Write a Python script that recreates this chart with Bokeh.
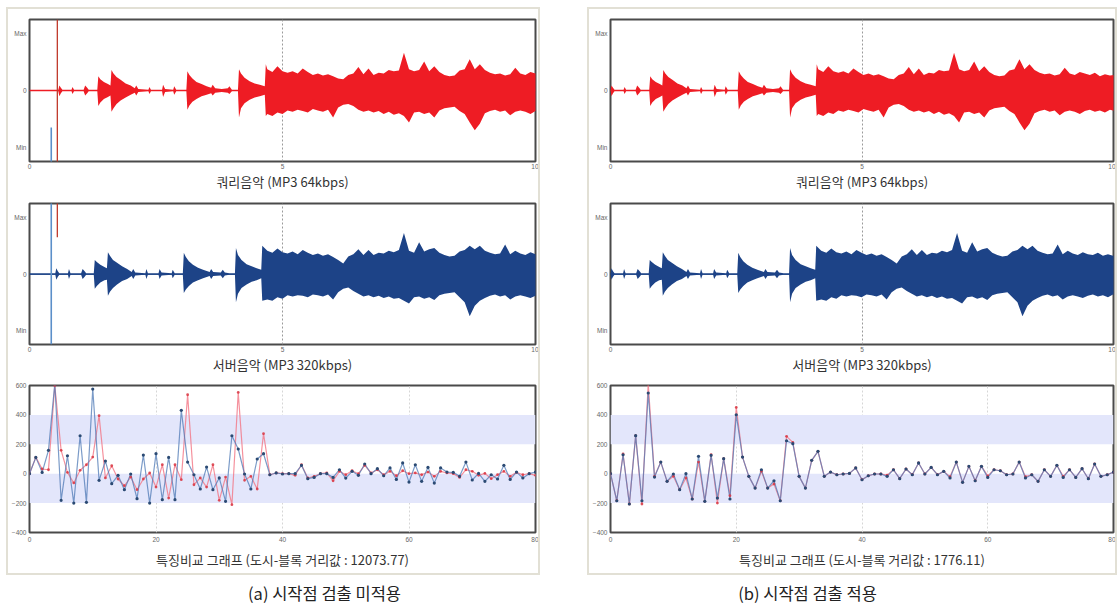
import numpy as np
from bokeh.plotting import figure
from bokeh.layouts import column, row
from bokeh.models import Range1d, FixedTicker, BoxAnnotation, Arrow, Label, Spacer
from bokeh.embed import file_html
from bokeh.resources import INLINE

# ---------------- data ----------------
# waveform envelopes (time in s, upper / lower amplitude, full scale = 1)
q_t = [0.00, 0.57, 0.59, 0.62, 0.65, 0.83, 0.85, 0.88, 1.07, 1.10,
       1.14, 1.17, 1.34, 1.36, 1.40, 1.47, 1.55, 1.60, 1.62, 1.66,
       1.72, 1.80, 1.90, 2.00, 2.08, 2.11, 2.15, 2.35, 2.37, 2.40,
       2.62, 2.64, 2.68, 2.84, 2.86, 2.90, 3.10, 3.12, 3.16, 3.22,
       3.30, 3.40, 3.50, 3.59, 3.62, 3.67, 3.80, 3.92, 3.95, 4.00,
       4.12, 4.14, 4.18, 4.25, 4.35, 4.45, 4.55, 4.65, 4.67]
q_top = [0.01, 0.01, 0.07, 0.04, 0.01, 0.01, 0.05, 0.01, 0.01, 0.07,
         0.04, 0.01, 0.01, 0.20, 0.16, 0.12, 0.09, 0.07, 0.29, 0.24,
         0.19, 0.15, 0.10, 0.07, 0.03, 0.07, 0.02, 0.01, 0.05, 0.01,
         0.01, 0.08, 0.02, 0.01, 0.06, 0.01, 0.01, 0.27, 0.22, 0.17,
         0.12, 0.09, 0.06, 0.04, 0.08, 0.03, 0.02, 0.03, 0.06, 0.01,
         0.01, 0.30, 0.24, 0.18, 0.13, 0.10, 0.08, 0.06, 0.37]
q_bot = [0.01, 0.01, 0.08, 0.04, 0.01, 0.01, 0.05, 0.01, 0.01, 0.07,
         0.04, 0.01, 0.01, 0.22, 0.17, 0.12, 0.09, 0.07, 0.30, 0.25,
         0.19, 0.14, 0.10, 0.06, 0.03, 0.07, 0.02, 0.01, 0.05, 0.01,
         0.01, 0.09, 0.02, 0.01, 0.06, 0.01, 0.01, 0.27, 0.21, 0.16,
         0.12, 0.08, 0.06, 0.04, 0.07, 0.03, 0.02, 0.03, 0.05, 0.01,
         0.01, 0.38, 0.25, 0.18, 0.13, 0.10, 0.08, 0.06, 0.36]
loud_t = [round(4.7 + 0.1 * i, 2) for i in range(60)]
q_loud_top = [0.30, 0.26, 0.34, 0.27, 0.25, 0.27, 0.24, 0.31, 0.26, 0.22,
              0.24, 0.21, 0.23, 0.20, 0.17, 0.16, 0.22, 0.24, 0.33, 0.23,
              0.31, 0.22, 0.25, 0.24, 0.29, 0.27, 0.28, 0.53, 0.30, 0.27,
              0.29, 0.41, 0.27, 0.34, 0.26, 0.22, 0.20, 0.21, 0.28, 0.30,
              0.44, 0.30, 0.37, 0.29, 0.25, 0.23, 0.24, 0.21, 0.23, 0.32,
              0.24, 0.22, 0.26, 0.24, 0.22, 0.25, 0.20, 0.23, 0.21, 0.22]
q_loud_bot = [0.33, 0.36, 0.31, 0.33, 0.28, 0.30, 0.27, 0.29, 0.31, 0.26,
              0.28, 0.30, 0.27, 0.38, 0.24, 0.20, 0.19, 0.22, 0.27, 0.30,
              0.28, 0.31, 0.29, 0.33, 0.30, 0.34, 0.32, 0.36, 0.45, 0.31,
              0.30, 0.33, 0.31, 0.38, 0.28, 0.25, 0.24, 0.23, 0.29, 0.33,
              0.45, 0.56, 0.47, 0.32, 0.29, 0.27, 0.30, 0.28, 0.35, 0.30,
              0.28, 0.30, 0.33, 0.29, 0.27, 0.30, 0.28, 0.31, 0.27, 0.29]

s_t = [0.00, 0.51, 0.53, 0.56, 0.59, 0.76, 0.78, 0.81, 1.02, 1.05,
       1.09, 1.12, 1.27, 1.29, 1.33, 1.40, 1.48, 1.53, 1.55, 1.59,
       1.65, 1.73, 1.83, 1.93, 2.02, 2.05, 2.09, 2.29, 2.31, 2.34,
       2.55, 2.57, 2.61, 2.81, 2.83, 2.87, 3.03, 3.05, 3.09, 3.15,
       3.23, 3.33, 3.43, 3.56, 3.59, 3.63, 3.78, 3.82, 3.86, 3.95,
       4.06, 4.08, 4.12, 4.19, 4.29, 4.39, 4.49, 4.58, 4.60]
s_top = [0.01, 0.01, 0.08, 0.04, 0.01, 0.01, 0.07, 0.01, 0.01, 0.07,
         0.04, 0.01, 0.01, 0.20, 0.17, 0.13, 0.10, 0.08, 0.31, 0.26,
         0.20, 0.16, 0.11, 0.07, 0.03, 0.07, 0.02, 0.01, 0.07, 0.01,
         0.01, 0.07, 0.02, 0.01, 0.06, 0.01, 0.01, 0.30, 0.24, 0.18,
         0.13, 0.09, 0.06, 0.03, 0.07, 0.03, 0.02, 0.06, 0.02, 0.01,
         0.01, 0.37, 0.27, 0.20, 0.14, 0.11, 0.08, 0.06, 0.40]
s_bot = [0.01, 0.01, 0.08, 0.04, 0.01, 0.01, 0.07, 0.01, 0.01, 0.07,
         0.04, 0.01, 0.01, 0.21, 0.17, 0.12, 0.09, 0.08, 0.31, 0.25,
         0.20, 0.15, 0.10, 0.07, 0.03, 0.07, 0.02, 0.01, 0.07, 0.01,
         0.01, 0.07, 0.02, 0.01, 0.06, 0.01, 0.01, 0.27, 0.22, 0.17,
         0.12, 0.09, 0.06, 0.03, 0.07, 0.03, 0.02, 0.06, 0.02, 0.01,
         0.01, 0.40, 0.28, 0.20, 0.15, 0.11, 0.09, 0.06, 0.38]
s_loud_top = [0.33, 0.30, 0.36, 0.31, 0.29, 0.32, 0.28, 0.34, 0.30, 0.27,
              0.29, 0.26, 0.28, 0.24, 0.20, 0.15, 0.25, 0.28, 0.35, 0.27,
              0.34, 0.27, 0.30, 0.29, 0.33, 0.31, 0.34, 0.58, 0.33, 0.30,
              0.45, 0.32, 0.35, 0.37, 0.30, 0.27, 0.25, 0.26, 0.32, 0.34,
              0.40, 0.35, 0.40, 0.33, 0.30, 0.28, 0.29, 0.42, 0.28, 0.33,
              0.29, 0.27, 0.31, 0.28, 0.27, 0.30, 0.26, 0.28, 0.26, 0.27]
s_loud_bot = [0.36, 0.38, 0.33, 0.35, 0.30, 0.32, 0.30, 0.31, 0.33, 0.29,
              0.30, 0.32, 0.29, 0.36, 0.26, 0.21, 0.19, 0.24, 0.28, 0.32,
              0.30, 0.33, 0.31, 0.34, 0.32, 0.35, 0.34, 0.38, 0.42, 0.33,
              0.32, 0.35, 0.33, 0.37, 0.30, 0.28, 0.27, 0.26, 0.33, 0.40,
              0.60, 0.45, 0.38, 0.34, 0.31, 0.29, 0.32, 0.30, 0.36, 0.32,
              0.30, 0.32, 0.34, 0.31, 0.29, 0.32, 0.30, 0.33, 0.29, 0.31]

# detected start points (s) used in panel (b); start markers drawn in panel (a)
query_start = 0.57
server_start = 0.51
marker_query_x = 0.55
marker_server_x = 0.43
marker_query_end = 0.52     # red marker ends inside the server plot at this level
marker_server_begin = -0.52  # blue marker starts inside the query plot at this level

# feature comparison values (index 0..80)
feat_idx = list(range(81))
feat_a_server = [0, 111, 9, 159, 612, -181, 122, -200, 258, -195,
                 576, -45, 86, -68, -11, -109, -2, -170, 127, -200,
                 136, -177, 111, -177, 431, 79, -7, -104, 45, -109,
                 -29, -188, 258, 168, -2, -104, 100, 136, -7, 5,
                 -2, 0, 0, 57, -34, -25, 0, 0, -25, 27,
                 -30, 16, -11, 66, 0, 34, -14, 39, -39, 73,
                 -57, 61, -52, 43, -64, 39, 11, 9, -18, 79,
                 -43, 2, -52, -7, -36, 57, -39, 11, -29, 0, 11]
feat_a_query = [0, 111, 32, 27, 600, 159, 9, -63, 23, 61,
                113, 395, -29, 54, -36, -82, -23, -109, -36, 5,
                -91, 61, -166, 61, -41, 537, -75, -29, -91, 61,
                -181, -23, -211, 553, -45, -18, -104, 272, -7, 5,
                0, 0, -11, 61, -29, -18, 0, 5, -48, 16,
                -7, 20, 0, 57, 5, 27, -7, 16, -14, 20,
                0, 5, -7, 11, -18, 16, 5, 0, -25, 27,
                16, -11, 2, -34, -7, 16, -18, 9, -7, 0, -11]
feat_b_server = [0, -184, 129, -206, 259, -184, 549, -23, 79, -52,
                 -2, -109, 0, -172, 118, -188, 125, -166, 102, -172,
                 401, 113, -18, -98, 27, -98, -48, -184, 224, 204,
                 -18, -98, 91, 152, -18, 11, -7, -2, 2, 39,
                 -41, -14, -2, -2, -18, 27, -34, 32, -7, 73,
                 -2, 43, -7, 16, -29, 79, -59, 50, -48, 50,
                 -25, 27, 20, -7, -2, 79, -29, -7, -52, 27,
                 -18, 57, -25, 27, -25, 34, -34, 66, -18, -7, 11]
feat_b_query = [0, -184, 134, -206, 259, -206, 610, -18, 79, -52,
                -18, -109, -29, -172, 79, -188, 129, -200, 102, -150,
                451, 113, -18, -98, 16, -98, -70, -184, 254, 213,
                -18, -98, 91, 152, -18, 11, -7, -2, 2, 39,
                -41, -14, -2, -2, -10, 27, -34, 32, -7, 73,
                -2, 43, -7, 16, -20, 79, -59, 50, -48, 50,
                -15, 27, 20, -7, -2, 79, -20, -7, -52, 27,
                -18, 57, -18, 27, -25, 34, -34, 66, -18, -7, 11]
bands = [(200, 400), (-200, 0)]

wave_titles = ["쿼리음악 (MP3 64kbps)", "서버음악 (MP3 320kbps)"]
feat_titles = ["특징비교 그래프 (도시-블록 거리값 : 12073.77)",
               "특징비교 그래프 (도시-블록 거리값 : 1776.11)"]
captions = ["(a) 시작점 검출 미적용", "(b) 시작점 검출 적용"]
wave_yticks = [-0.8, 0, 0.8]
wave_ylabels = {-0.8: "Min", 0: "0", 0.8: "Max"}
wave_xticks = [0, 5, 10]
feat_xticks = [0, 20, 40, 60, 80]
feat_yticks = [-400, -200, 0, 200, 400, 600]

# ---------------- style ----------------
KR = "Noto Sans CJK KR"
TF = "Liberation Sans"
RED = "#ee1c24"
NAVY = "#1d4387"
OUTLINE = "#4a4a4a"
BOX = "#e2e0d5"
FRAME_W = {530: 507, 526: 505}   # figure width -> frame width


def base_axes(p, xt, yt, xlabel, tick_standoff, label_standoff):
    for ax in (p.xaxis[0], p.yaxis[0]):
        ax.axis_line_color = None
        ax.major_tick_line_color = None
        ax.minor_tick_line_color = None
        ax.major_tick_out = 0
        ax.major_tick_in = 0
        ax.major_label_text_font = TF
        ax.major_label_text_font_size = "6.5px"
        ax.major_label_text_color = "#666666"
    p.xaxis.ticker = FixedTicker(ticks=xt)
    p.yaxis.ticker = FixedTicker(ticks=yt)
    p.yaxis.major_label_standoff = 3
    p.xaxis.major_label_standoff = tick_standoff
    p.xaxis.axis_label = xlabel
    p.xaxis.axis_label_text_font = KR
    p.xaxis.axis_label_text_font_size = "13px"
    p.xaxis.axis_label_text_font_style = "normal"
    p.xaxis.axis_label_text_color = "#333333"
    p.xaxis.axis_label_standoff = label_standoff
    p.outline_line_color = OUTLINE
    p.outline_line_width = 2
    p.outline_line_alpha = 1


def wave_fig(width, left, top_b, frame_h, bottom, title, t, top, bot, offset, color,
             tick_standoff, label_standoff):
    p = figure(width=width, height=top_b + frame_h + bottom,
               x_range=Range1d(0, 10), y_range=Range1d(-1, 1),
               output_backend="svg", toolbar_location=None,
               min_border_left=left, min_border_right=width - left - FRAME_W[width],
               min_border_top=top_b, min_border_bottom=bottom)
    base_axes(p, wave_xticks, wave_yticks, title, tick_standoff, label_standoff)
    p.yaxis.major_label_overrides = wave_ylabels
    p.xgrid.ticker = FixedTicker(ticks=[5])
    p.xgrid.grid_line_color = "#9a9a9a"
    p.xgrid.grid_line_dash = "2 2"
    p.xgrid.grid_line_width = 1
    p.ygrid.ticker = FixedTicker(ticks=[0])
    p.ygrid.grid_line_color = color
    p.ygrid.grid_line_alpha = 0.8
    p.ygrid.grid_line_width = 1
    x = np.array(t) - offset
    p.varea(x=x, y1=-np.array(bot), y2=np.array(top), fill_color=color, fill_alpha=1)
    return p


def feat_fig(width, left, title, series_server, series_query):
    p = figure(width=width, height=9 + 147 + 41,
               x_range=Range1d(0, 80), y_range=Range1d(-400, 600),
               output_backend="svg", toolbar_location=None,
               min_border_left=left, min_border_right=width - left - FRAME_W[width],
               min_border_top=9, min_border_bottom=41)
    base_axes(p, feat_xticks, feat_yticks, title, 4, 5)
    p.xgrid.ticker = FixedTicker(ticks=[20, 40, 60])
    p.xgrid.grid_line_color = "#d6d6d6"
    p.xgrid.grid_line_dash = "2 2"
    p.ygrid.visible = False
    for lo, hi in bands:
        p.add_layout(BoxAnnotation(bottom=lo, top=hi, fill_color="#e3e6fb", fill_alpha=1,
                                   line_color=None, level="underlay"))
    p.line(feat_idx, series_query, line_color="#f27584", line_width=1.2, line_alpha=0.8)
    p.line(feat_idx, series_server, line_color="#4f79b5", line_width=1.2, line_alpha=0.75)
    p.scatter(feat_idx, series_query, size=2.8, fill_color="#d8343f", line_color=None,
              fill_alpha=0.85)
    p.scatter(feat_idx, series_server, size=3.2, fill_color="#2b4a73", line_color=None)
    return p


def marker(fig, x, y0, y1, color, lw):
    fig.add_layout(Arrow(end=None, x_start=x, y_start=y0, x_end=x, y_end=y1,
                         line_color=color, line_width=lw, level="overlay"))


def panel(width, left, q_off, s_off, feat_server, feat_query, ftitle, markers):
    qt = q_t + loud_t
    st = s_t + loud_t
    f1 = wave_fig(width, left, 10, 147, 27, wave_titles[0], qt, q_top + q_loud_top,
                  q_bot + q_loud_bot, q_off, RED, 2, 0)
    f2 = wave_fig(width, left, 10, 146, 27, wave_titles[1], st, s_top + s_loud_top,
                  s_bot + s_loud_bot, s_off, NAVY, 2, 0)
    f3 = feat_fig(width, left, ftitle, feat_server, feat_query)
    if markers:
        marker(f1, marker_query_x, 1.0, -3.0, "#c0392b", 1.3)
        marker(f1, marker_server_x, marker_server_begin, -3.0, "#5b8fc9", 1.6)
        marker(f2, marker_query_x, 3.0, marker_query_end, "#c0392b", 1.3)
        marker(f2, marker_server_x, 3.0, -1.0, "#5b8fc9", 1.6)
    return column(f1, f2, f3, styles={"border": "2px solid " + BOX,
                                      "background-color": "white"})


# panel (a): outer 534 px at x=6; panel (b): outer 530 px at x=587
col_a = panel(530, 20, 0.0, 0.0, feat_a_server, feat_a_query, feat_titles[0], True)
col_b = panel(526, 19, query_start, server_start, feat_b_server, feat_b_query,
              feat_titles[1], False)

CAP_W, CAP_H = 1117, 29
cap = figure(width=CAP_W, height=CAP_H, x_range=Range1d(0, CAP_W), y_range=Range1d(0, CAP_H),
             output_backend="svg", toolbar_location=None, min_border=0,
             x_axis_location=None, y_axis_location=None)
cap.outline_line_color = None
cap.xgrid.visible = False
cap.ygrid.visible = False
for xc, txt in zip([324, 807], captions):
    cap.add_layout(Label(x=xc, y=12, text=txt, text_align="center", text_baseline="middle",
                         text_font=KR, text_font_size="16.5px", text_color="#222222"))

layout = column(Spacer(height=7),
                row(Spacer(width=6), col_a, Spacer(width=47), col_b),
                cap)

with open("out.html", "w") as f:
    f.write(file_html(layout, INLINE))
